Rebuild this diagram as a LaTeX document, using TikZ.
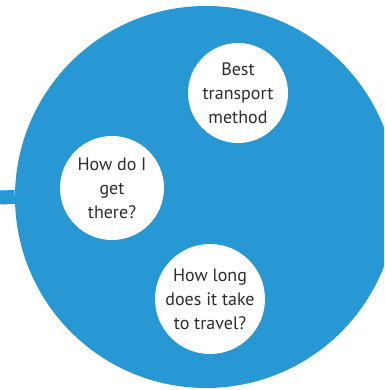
\documentclass[tikz,border=0pt]{standalone}
\usepackage{fontspec}
\setmainfont{PT Sans}
\usepackage{tikz}
\definecolor{hubblue}{RGB}{40,152,212}
\definecolor{qgray}{RGB}{45,45,45}

\begin{document}
\begin{tikzpicture}[x=1pt, y=1pt,
  question/.style={circle, fill=white, inner sep=0pt, align=center,
    text=qgray, font=\fontsize{18}{24}\selectfont}]
\useasboundingbox (0,0) rectangle (384,390);
\clip (0,0) rectangle (384,390);

\node[circle, fill=hubblue, minimum size=382pt, inner sep=0pt] (hub) at (206,193) {};
\coordinate (stub) at (0,192.5);
\draw[hubblue, line width=14pt] (stub) -- (hub.west);

\node[question, minimum size=100pt] (method) at (238,297) {Best\\transport\\method};
\node[question, minimum size=104pt] (route) at (112,202) {How do I\\get\\there?};
\node[question, minimum size=110pt] (time) at (210,91) {How long\\does it take\\to travel?};
\end{tikzpicture}
\end{document}
